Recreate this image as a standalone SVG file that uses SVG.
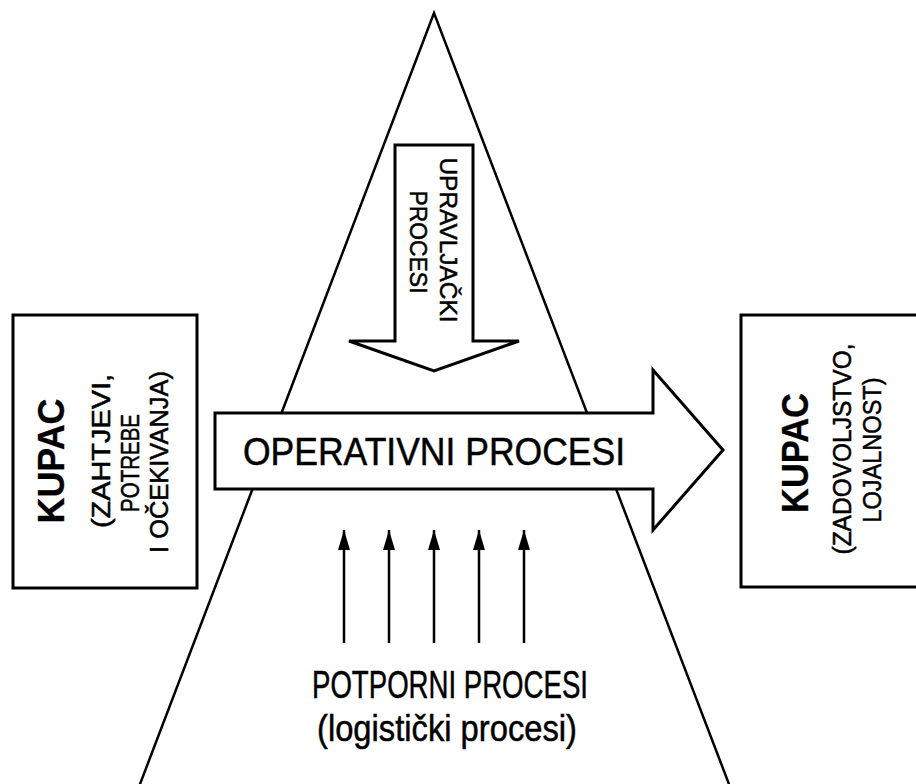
<svg xmlns="http://www.w3.org/2000/svg" width="916" height="784" viewBox="0 0 916 784">
<style>
.ln{fill:none;stroke:#000;stroke-width:2.5;stroke-linejoin:miter}
.shape{fill:#fff;stroke:#000;stroke-width:3;stroke-linejoin:miter}
.t{font-family:"Liberation Sans",Arial,sans-serif;fill:#000;stroke:#000;stroke-width:0.5}
.b{font-weight:bold;stroke-width:0.3}
.up{stroke:#000;stroke-width:2.5;fill:none}
</style>
<defs>
<marker id="ah" markerUnits="userSpaceOnUse" markerWidth="22" markerHeight="14" refX="20" refY="6" orient="auto">
<path d="M0,0 L20,6 L0,12 Z" fill="#000"/>
</marker>
</defs>
<rect width="916" height="784" fill="#fff"/>
<g id="triangle">
<polyline class="ln" points="137,792 434,13 732,792"/>
</g>
<g id="left-box">
<rect class="shape" x="13" y="315" width="184" height="273"/>
<text class="t b" font-size="36" text-anchor="middle" transform="translate(64,461) rotate(-90)" textLength="125" lengthAdjust="spacingAndGlyphs">KUPAC</text>
<text class="t" font-size="25" text-anchor="middle" transform="translate(110,451) rotate(-90)" textLength="154" lengthAdjust="spacingAndGlyphs">(ZAHTJEVI,</text>
<text class="t" font-size="25" text-anchor="middle" transform="translate(139,463) rotate(-90)" textLength="98" lengthAdjust="spacingAndGlyphs">POTREBE</text>
<text class="t" font-size="25" text-anchor="middle" transform="translate(168,462) rotate(-90)" textLength="182" lengthAdjust="spacingAndGlyphs">I OČEKIVANJA)</text>
</g>
<g id="right-box">
<rect class="shape" x="741" y="315" width="185" height="272"/>
<text class="t b" font-size="36" text-anchor="middle" transform="translate(808,453) rotate(-90)" textLength="120" lengthAdjust="spacingAndGlyphs">KUPAC</text>
<text class="t" font-size="25" text-anchor="middle" transform="translate(851,449) rotate(-90)" textLength="211" lengthAdjust="spacingAndGlyphs">(ZADOVOLJSTVO,</text>
<text class="t" font-size="25" text-anchor="middle" transform="translate(881,450) rotate(-90)" textLength="145" lengthAdjust="spacingAndGlyphs">LOJALNOST)</text>
</g>
<g id="upravljacki">
<polygon class="shape" points="395,145 473,145 473,341 519,341 434,371 349,341 395,341"/>
<text class="t" font-size="24" text-anchor="middle" transform="translate(440,240) rotate(90)" textLength="165" lengthAdjust="spacingAndGlyphs">UPRAVLJAČKI</text>
<text class="t" font-size="24" text-anchor="middle" transform="translate(410,242) rotate(90)" textLength="103" lengthAdjust="spacingAndGlyphs">PROCESI</text>
</g>
<g id="operativni">
<polygon class="shape" points="215,413 653,413 653,370 723,450 653,530 653,489 215,489"/>
<text class="t" font-size="38" x="243" y="465" textLength="382" lengthAdjust="spacingAndGlyphs">OPERATIVNI PROCESI</text>
</g>
<g id="connectors">
<line class="up" x1="344" y1="643" x2="344" y2="530" marker-end="url(#ah)"/>
<line class="up" x1="389" y1="643" x2="389" y2="530" marker-end="url(#ah)"/>
<line class="up" x1="434" y1="643" x2="434" y2="530" marker-end="url(#ah)"/>
<line class="up" x1="479" y1="643" x2="479" y2="530" marker-end="url(#ah)"/>
<line class="up" x1="524" y1="643" x2="524" y2="530" marker-end="url(#ah)"/>
</g>
<g id="potporni">
<text class="t" font-size="38" x="450" y="698" text-anchor="middle" textLength="276" lengthAdjust="spacingAndGlyphs" stroke-width="0.8">POTPORNI PROCESI</text>
<text class="t" font-size="36" x="447" y="741" text-anchor="middle" textLength="260" lengthAdjust="spacingAndGlyphs" stroke-width="0.8">(logistički procesi)</text>
</g>
</svg>
